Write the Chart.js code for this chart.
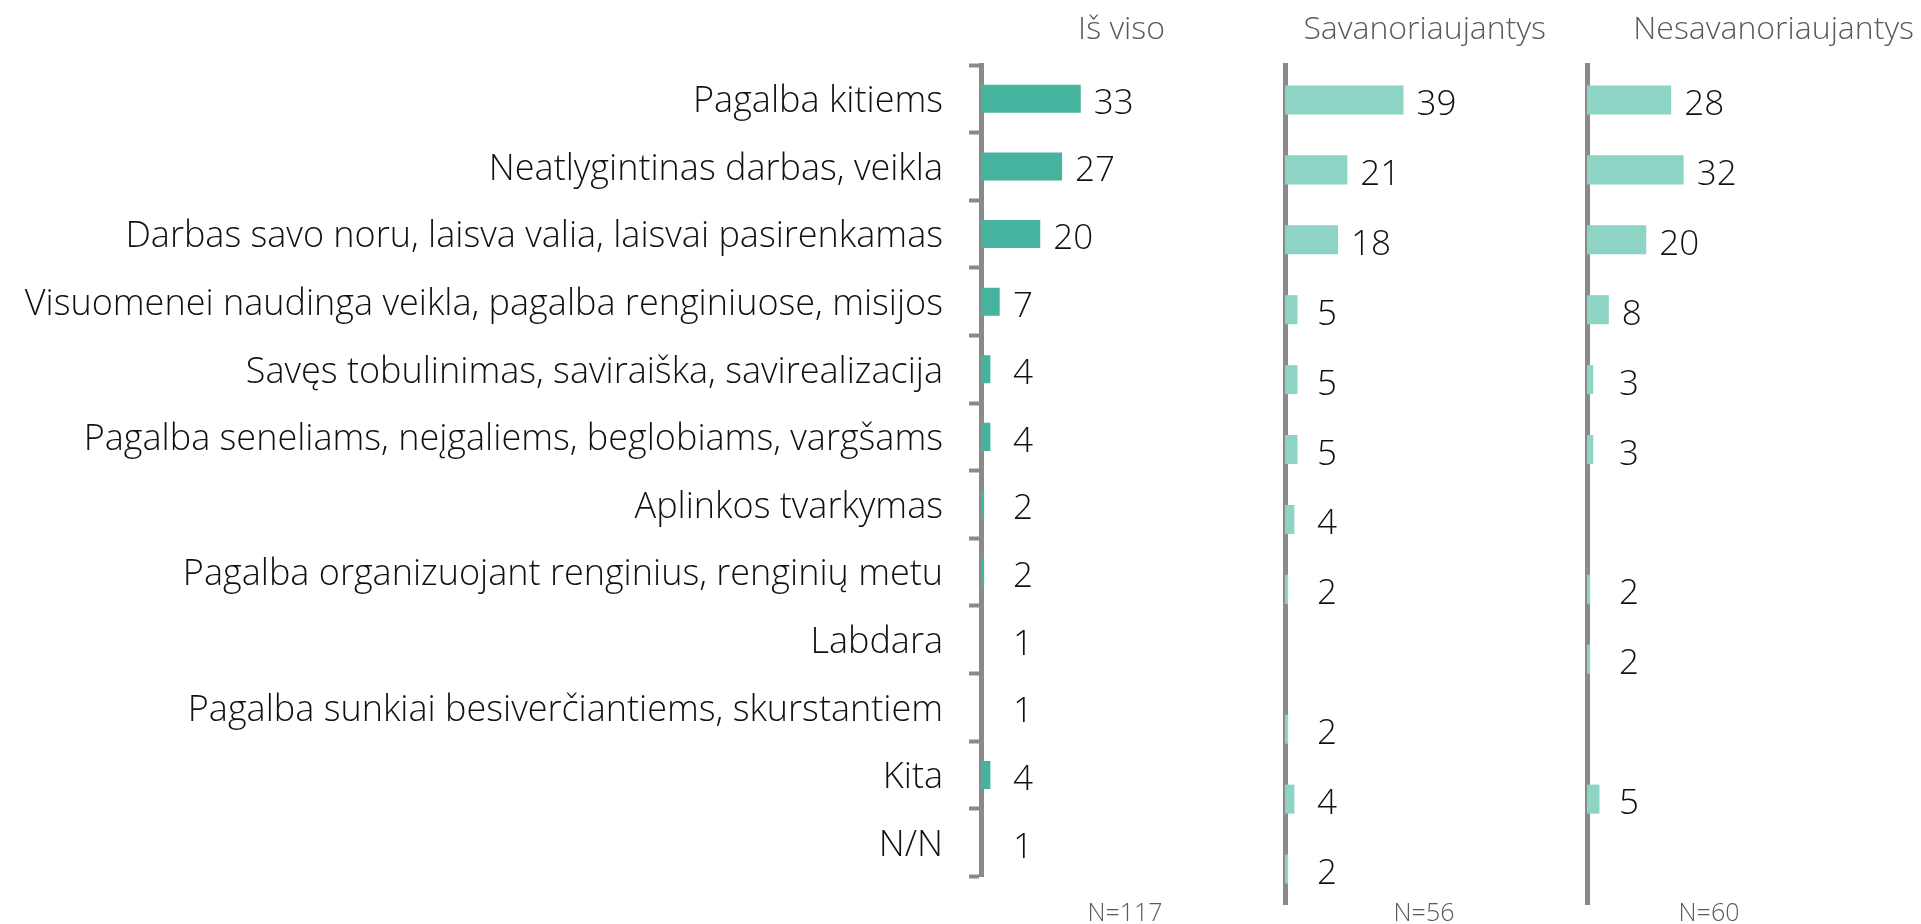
<!DOCTYPE html>
<html lang="lt">
<head>
<meta charset="utf-8">
<script src="https://cdn.jsdelivr.net/npm/chart.js@4"></script>
<style>
  html, body { margin: 0; padding: 0; background: #fff; }
  #wrap { position: relative; width: 1921px; height: 924px; }
  #wrap canvas { position: absolute; left: 0; top: 0; }
</style>
</head>
<body>
<div id="wrap">
  <canvas id="panel1" width="1921" height="924"></canvas>
  <canvas id="panel2" width="1921" height="924"></canvas>
  <canvas id="panel3" width="1921" height="924"></canvas>
</div>
<script>
const categories = [
  "Pagalba kitiems",
  "Neatlygintinas darbas, veikla",
  "Darbas savo noru, laisva valia, laisvai pasirenkamas",
  "Visuomenei naudinga veikla, pagalba renginiuose, misijos",
  "Savęs tobulinimas, saviraiška, savirealizacija",
  "Pagalba seneliams, neįgaliems, beglobiams, vargšams",
  "Aplinkos tvarkymas",
  "Pagalba organizuojant renginius, renginių metu",
  "Labdara",
  "Pagalba sunkiai besiverčiantiems, skurstantiem",
  "Kita",
  "N/N"
];
const isViso = [33, 27, 20, 7, 4, 4, 2, 2, 1, 1, 4, 1];
const savanoriaujantys = [39, 21, 18, 5, 5, 5, 4, 2, null, 2, 4, 2];
const nesavanoriaujantys = [28, 32, 20, 8, 3, 3, null, 2, 2, null, 5, null];
const panelTitles = ["Iš viso", "Savanoriaujantys", "Nesavanoriaujantys"];
const sampleSizes = ["N=117", "N=56", "N=60"];

const FONT = "'Open Sans', 'Noto Sans', sans-serif";
const AXIS_GREY = "#8a8a8a";
Chart.defaults.font.family = FONT;
Chart.defaults.font.weight = 300;

// bar value labels, just past the end of each bar
const valueLabels = {
  id: "valueLabels",
  afterDatasetsDraw(chart, args, opts) {
    const ctx = chart.ctx;
    const left = chart.chartArea.left;
    const values = chart.data.datasets[0].data;
    ctx.save();
    ctx.font = "300 35px " + FONT;
    ctx.fillStyle = "#111";
    ctx.textAlign = "left";
    ctx.textBaseline = "middle";
    chart.getDatasetMeta(0).data.forEach((bar, i) => {
      if (values[i] == null) return;
      const x = Math.max(bar.x + 13, left + 32);
      ctx.fillText(String(values[i]), x, bar.y + 5);
    });
    ctx.restore();
  }
};

// column header above and N= note below each panel
const panelText = {
  id: "panelText",
  afterDraw(chart, args, opts) {
    const ctx = chart.ctx;
    const left = chart.chartArea.left;
    ctx.save();
    ctx.fillStyle = "#5a5a5a";
    ctx.textBaseline = "middle";
    ctx.font = "300 32px " + FONT;
    ctx.textAlign = "right";
    ctx.fillText(opts.title, left + opts.titleRight, 30);
    ctx.font = "300 25px " + FONT;
    ctx.textAlign = "center";
    ctx.fillText(opts.note, left + opts.noteCenter, 914);
    ctx.restore();
  }
};

function makePanel(id, values, color, areaLeft, withLabels, title, note, titleRight, noteCenter) {
  const width = 304;
  return new Chart(document.getElementById(id), {
    type: "bar",
    data: {
      labels: categories,
      datasets: [{
        data: values,
        backgroundColor: color,
        borderWidth: 0,
        barPercentage: 0.415,
        categoryPercentage: 1
      }]
    },
    plugins: [valueLabels, panelText],
    options: {
      indexAxis: "y",
      responsive: false,
      animation: false,
      layout: { padding: { left: 0, right: 1921 - areaLeft - width, top: 65, bottom: 20 } },
      scales: {
        x: { type: "linear", min: 1, max: 98.5, display: false },
        y: {
          z: 1,
          afterFit: (scale) => { scale.width = areaLeft; },
          border: { display: true, color: AXIS_GREY, width: 5 },
          grid: {
            display: withLabels,
            drawOnChartArea: false,
            drawTicks: true,
            offset: true,
            tickLength: 12,
            tickWidth: 4,
            tickColor: AXIS_GREY,
            color: AXIS_GREY
          },
          ticks: {
            display: withLabels,
            color: "#111",
            padding: 26,
            labelOffset: 3,
            font: { size: 36, weight: 300 }
          }
        }
      },
      plugins: {
        legend: { display: false },
        tooltip: { enabled: false },
        panelText: { title: title, note: note, titleRight: titleRight, noteCenter: noteCenter }
      }
    }
  });
}

makePanel("panel1", isViso, "#45b39d", 981, true, panelTitles[0], sampleSizes[0], 184, 144);
makePanel("panel2", savanoriaujantys, "#8dd4c5", 1285, false, panelTitles[1], sampleSizes[1], 261, 139);
makePanel("panel3", nesavanoriaujantys, "#8dd4c5", 1587, false, panelTitles[2], sampleSizes[2], 327, 122);
</script>
</body>
</html>
